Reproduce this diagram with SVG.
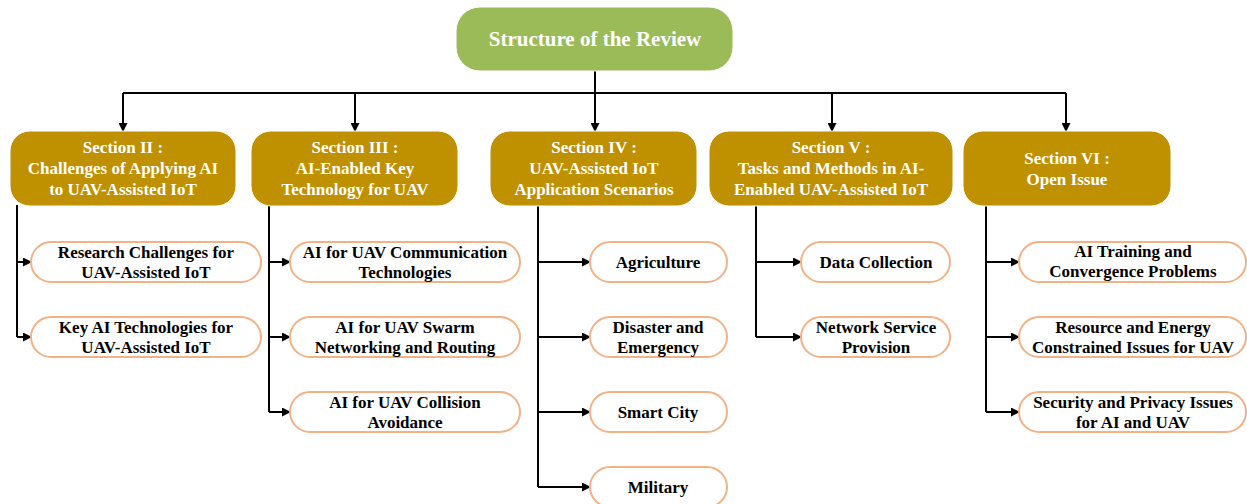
<svg xmlns="http://www.w3.org/2000/svg" width="1247" height="504" viewBox="0 0 1247 504">
<defs>
<marker id="arr" markerWidth="9" markerHeight="9" refX="8" refY="4.5" orient="auto" markerUnits="userSpaceOnUse">
<path d="M0,0 L9,4.5 L0,9 Z" fill="#000"/>
</marker>
<style>
.root{fill:#9BBB59;stroke:#fff;stroke-width:1}
.sec{fill:#BF9000;stroke:#fff;stroke-width:1}
.leaf{fill:#fff;stroke:#F4B183;stroke-width:2}
.rt{font-family:"Liberation Serif",serif;font-weight:bold;font-size:21px;fill:#fff;text-anchor:middle}
.st{font-family:"Liberation Serif",serif;font-weight:bold;font-size:17px;fill:#fff;text-anchor:middle}
.lt{font-family:"Liberation Serif",serif;font-weight:bold;font-size:17px;fill:#000;text-anchor:middle}
.c{fill:none;stroke:#000;stroke-width:2}
</style>
</defs>
<g id="connectors">
<path class="c" d="M595,71 V93"/>
<path class="c" d="M123,93 H1066"/>
<path class="c" d="M123,93 V131" marker-end="url(#arr)"/>
<path class="c" d="M355,93 V131" marker-end="url(#arr)"/>
<path class="c" d="M595,93 V131" marker-end="url(#arr)"/>
<path class="c" d="M832,93 V131" marker-end="url(#arr)"/>
<path class="c" d="M1066,93 V131" marker-end="url(#arr)"/>
<path class="c" d="M17,205 V337"/>
<path class="c" d="M17,262 H31" marker-end="url(#arr)"/>
<path class="c" d="M17,337 H31" marker-end="url(#arr)"/>
<path class="c" d="M269,205 V412"/>
<path class="c" d="M269,262 H290" marker-end="url(#arr)"/>
<path class="c" d="M269,337 H290" marker-end="url(#arr)"/>
<path class="c" d="M269,412 H290" marker-end="url(#arr)"/>
<path class="c" d="M538,205 V487"/>
<path class="c" d="M538,262 H590" marker-end="url(#arr)"/>
<path class="c" d="M538,337 H590" marker-end="url(#arr)"/>
<path class="c" d="M538,412 H590" marker-end="url(#arr)"/>
<path class="c" d="M538,487 H590" marker-end="url(#arr)"/>
<path class="c" d="M756,205 V337"/>
<path class="c" d="M756,262 H801" marker-end="url(#arr)"/>
<path class="c" d="M756,337 H801" marker-end="url(#arr)"/>
<path class="c" d="M986,205 V412"/>
<path class="c" d="M986,262 H1019" marker-end="url(#arr)"/>
<path class="c" d="M986,337 H1019" marker-end="url(#arr)"/>
<path class="c" d="M986,412 H1019" marker-end="url(#arr)"/>
</g>
<g id="root">
<rect class="root" x="456" y="7" width="277" height="64" rx="24"/>
<text class="rt" x="595" y="46">Structure of the Review</text>
</g>
<g id="sec2">
<rect class="sec" x="10" y="131" width="226" height="75" rx="20"/>
<text class="st" x="123" y="153">Section II :</text>
<text class="st" x="123" y="174">Challenges of Applying AI</text>
<text class="st" x="123" y="195">to UAV-Assisted IoT</text>
</g>
<g id="sec3">
<rect class="sec" x="251" y="131" width="207" height="75" rx="20"/>
<text class="st" x="355" y="153">Section III :</text>
<text class="st" x="355" y="174">AI-Enabled Key</text>
<text class="st" x="355" y="195">Technology for UAV</text>
</g>
<g id="sec4">
<rect class="sec" x="490" y="131" width="207" height="75" rx="20"/>
<text class="st" x="594" y="153">Section IV :</text>
<text class="st" x="594" y="174">UAV-Assisted IoT</text>
<text class="st" x="594" y="195">Application Scenarios</text>
</g>
<g id="sec5">
<rect class="sec" x="709" y="131" width="244" height="75" rx="20"/>
<text class="st" x="831" y="153">Section V :</text>
<text class="st" x="831" y="174">Tasks and Methods in AI-</text>
<text class="st" x="831" y="195">Enabled UAV-Assisted IoT</text>
</g>
<g id="sec6">
<rect class="sec" x="963" y="131" width="208" height="75" rx="20"/>
<text class="st" x="1067" y="164">Section VI :</text>
<text class="st" x="1067" y="185">Open Issue</text>
</g>
<g id="leaf-rc">
<rect class="leaf" x="31" y="242" width="230" height="40" rx="20"/>
<text class="lt" x="146" y="258">Research Challenges for</text>
<text class="lt" x="146" y="278">UAV-Assisted IoT</text>
</g>
<g id="leaf-kai">
<rect class="leaf" x="31" y="317" width="230" height="40" rx="20"/>
<text class="lt" x="146" y="333">Key AI Technologies for</text>
<text class="lt" x="146" y="353">UAV-Assisted IoT</text>
</g>
<g id="leaf-comm">
<rect class="leaf" x="290" y="242" width="230" height="40" rx="20"/>
<text class="lt" x="405" y="258">AI for UAV Communication</text>
<text class="lt" x="405" y="278">Technologies</text>
</g>
<g id="leaf-swarm">
<rect class="leaf" x="290" y="317" width="230" height="40" rx="20"/>
<text class="lt" x="405" y="333">AI for UAV Swarm</text>
<text class="lt" x="405" y="353">Networking and Routing</text>
</g>
<g id="leaf-coll">
<rect class="leaf" x="290" y="392" width="230" height="40" rx="20"/>
<text class="lt" x="405" y="408">AI for UAV Collision</text>
<text class="lt" x="405" y="428">Avoidance</text>
</g>
<g id="leaf-agri">
<rect class="leaf" x="590" y="242" width="137" height="40" rx="20"/>
<text class="lt" x="658" y="268">Agriculture</text>
</g>
<g id="leaf-dis">
<rect class="leaf" x="590" y="317" width="137" height="40" rx="20"/>
<text class="lt" x="658" y="333">Disaster and</text>
<text class="lt" x="658" y="353">Emergency</text>
</g>
<g id="leaf-city">
<rect class="leaf" x="590" y="392" width="137" height="40" rx="20"/>
<text class="lt" x="658" y="418">Smart City</text>
</g>
<g id="leaf-mil">
<rect class="leaf" x="590" y="467" width="137" height="40" rx="20"/>
<text class="lt" x="658" y="493">Military</text>
</g>
<g id="leaf-data">
<rect class="leaf" x="801" y="242" width="149" height="40" rx="20"/>
<text class="lt" x="876" y="268">Data Collection</text>
</g>
<g id="leaf-net">
<rect class="leaf" x="801" y="317" width="149" height="40" rx="20"/>
<text class="lt" x="876" y="333">Network Service</text>
<text class="lt" x="876" y="353">Provision</text>
</g>
<g id="leaf-train">
<rect class="leaf" x="1019" y="242" width="227" height="40" rx="20"/>
<text class="lt" x="1133" y="257">AI Training and</text>
<text class="lt" x="1133" y="277">Convergence Problems</text>
</g>
<g id="leaf-res">
<rect class="leaf" x="1019" y="317" width="227" height="40" rx="20"/>
<text class="lt" x="1133" y="333">Resource and Energy</text>
<text class="lt" x="1133" y="353">Constrained Issues for UAV</text>
</g>
<g id="leaf-sec">
<rect class="leaf" x="1019" y="392" width="227" height="40" rx="20"/>
<text class="lt" x="1133" y="408">Security and Privacy Issues</text>
<text class="lt" x="1133" y="428">for AI and UAV</text>
</g>
</svg>
